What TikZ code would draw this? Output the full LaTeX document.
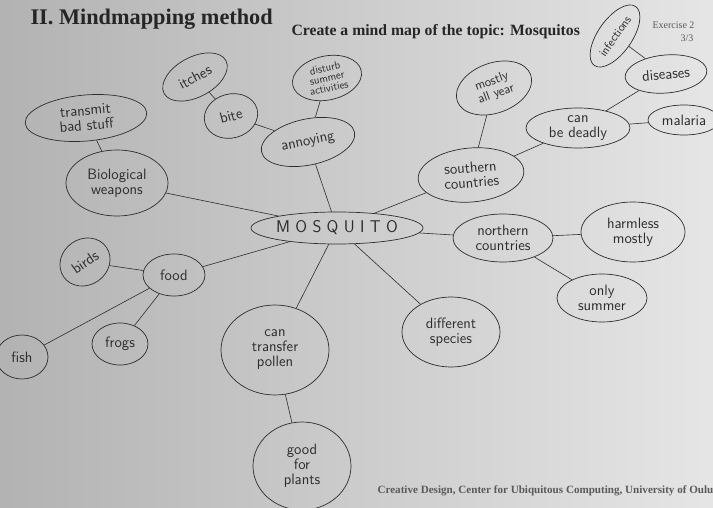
\documentclass[tikz,border=0pt]{standalone}
\usepackage{fontspec}
\setmainfont{Liberation Serif}
\usepackage{tikz}
\usetikzlibrary{shapes.geometric}
\definecolor{pencil}{RGB}{45,45,45}
\definecolor{printgray}{RGB}{90,90,90}
\newcommand{\hand}{\sffamily\fontsize{15}{15}\selectfont}

\begin{document}
\begin{tikzpicture}[x=1pt, y=-1pt,
		bubble/.style = {draw = pencil, ellipse, line width = 0.7pt, inner sep = 0pt,
			align = center, font = \hand, text = pencil},
		link/.style = {draw = pencil, line width = 0.6pt}]
	\useasboundingbox (0,0) rectangle (713,508);
	\shade[left color = black!30, right color = black!10] (0,0) rectangle (713,508);
	
	% header and footer
	\node[anchor = base west, font = \bfseries\fontsize{22.3}{24}\selectfont, text = black!85] (title) at (27,25) {II. Mindmapping method};
	\node[anchor = base west, font = \bfseries\fontsize{15.7}{17}\selectfont, text = black!85] (task) at (288,36) {Create a mind map of the topic: Mosquitos};
	\node[anchor = base east, font = \fontsize{10}{11}\selectfont, text = printgray] (exer) at (698,29) {Exercise 2};
	\node[anchor = base east, font = \fontsize{10}{11}\selectfont, text = printgray] (page) at (697,42) {3/3};
	\node[anchor = base west, font = \bfseries\fontsize{11.1}{13}\selectfont, text = printgray] (foot) at (374,493) {Creative Design, Center for Ubiquitous Computing, University of Oulu};
	
	% centre
	\node[bubble, minimum width = 150pt, minimum height = 32pt, font = \sffamily\fontsize{17}{18}\selectfont] (mosq) at (337,228) {M O S Q U I T O};
	
	% upper left branch
	\node[bubble, minimum width = 95pt, minimum height = 46pt, rotate = 12] (annoy) at (308,142) {annoying};
	\node[bubble, minimum width = 54pt, minimum height = 44pt, rotate = 15] (bite) at (231,116) {bite};
	\node[bubble, minimum width = 70pt, minimum height = 40pt, rotate = 28] (itch) at (195,77) {itches};
	\node[bubble, minimum width = 70pt, minimum height = 44pt, rotate = 12, font = \sffamily\fontsize{11}{10}\selectfont] (dist) at (327,78) {disturb\\summer\\activities};
	\node[bubble, minimum width = 122pt, minimum height = 46pt, rotate = 5] (trans) at (86,118) {transmit\\bad stuff};
	\node[bubble, minimum width = 102pt, minimum height = 66pt] (bio) at (117,183) {Biological\\weapons};
	
	% lower left branch
	\node[bubble, minimum width = 62pt, minimum height = 42pt] (food) at (174,275) {food};
	\node[bubble, minimum width = 52pt, minimum height = 46pt, rotate = 35] (birds) at (85,262) {birds};
	\node[bubble, minimum width = 56pt, minimum height = 42pt] (frogs) at (120,344) {frogs};
	\node[bubble, minimum width = 52pt, minimum height = 44pt] (fish) at (22,357) {fish};
	
	% lower branch
	\node[bubble, minimum width = 108pt, minimum height = 90pt] (poll) at (275,350) {can\\transfer\\pollen};
	\node[bubble, minimum width = 98pt, minimum height = 88pt] (good) at (302,466) {good\\for\\plants};
	\node[bubble, minimum width = 98pt, minimum height = 70pt] (diff) at (451,332) {different\\species};
	
	% right branch
	\node[bubble, minimum width = 100pt, minimum height = 48pt] (north) at (503,238) {northern\\countries};
	\node[bubble, minimum width = 104pt, minimum height = 60pt] (harm) at (633,232) {harmless\\mostly};
	\node[bubble, minimum width = 90pt, minimum height = 48pt] (summ) at (602,298) {only\\summer};
	\node[bubble, minimum width = 106pt, minimum height = 54pt, rotate = 5] (south) at (471,175) {southern\\countries};
	\node[bubble, minimum width = 78pt, minimum height = 50pt, rotate = 20, font = \sffamily\fontsize{13}{13}\selectfont] (year) at (494,88) {mostly\\all year};
	\node[bubble, minimum width = 104pt, minimum height = 40pt] (dead) at (578,128) {can\\be deadly};
	\node[bubble, minimum width = 72pt, minimum height = 30pt] (mal) at (684,120) {malaria};
	\node[bubble, minimum width = 82pt, minimum height = 38pt, rotate = 5] (dise) at (666,74) {diseases};
	\node[bubble, minimum width = 72pt, minimum height = 34pt, rotate = 55, font = \sffamily\fontsize{12}{12}\selectfont] (infe) at (615,36) {infections};
	
	% connectors
	\draw[link] (mosq) -- (annoy);
	\draw[link] (annoy) -- (bite);
	\draw[link] (bite) -- (itch);
	\draw[link] (annoy) -- (dist);
	\draw[link] (mosq) -- (bio);
	\draw[link] (bio) -- (trans);
	\draw[link] (mosq) -- (food);
	\draw[link] (food) -- (birds);
	\draw[link] (food) -- (frogs);
	\draw[link] (food) -- (fish);
	\draw[link] (mosq) -- (poll);
	\draw[link] (poll) -- (good);
	\draw[link] (mosq) -- (diff);
	\draw[link] (mosq) -- (north);
	\draw[link] (north) -- (harm);
	\draw[link] (north) -- (summ);
	\draw[link] (mosq) -- (south);
	\draw[link] (south) -- (year);
	\draw[link] (south) -- (dead);
	\draw[link] (dead) -- (mal);
	\draw[link] (dead) -- (dise);
	\draw[link] (dise) -- (infe);
\end{tikzpicture}
\end{document}
